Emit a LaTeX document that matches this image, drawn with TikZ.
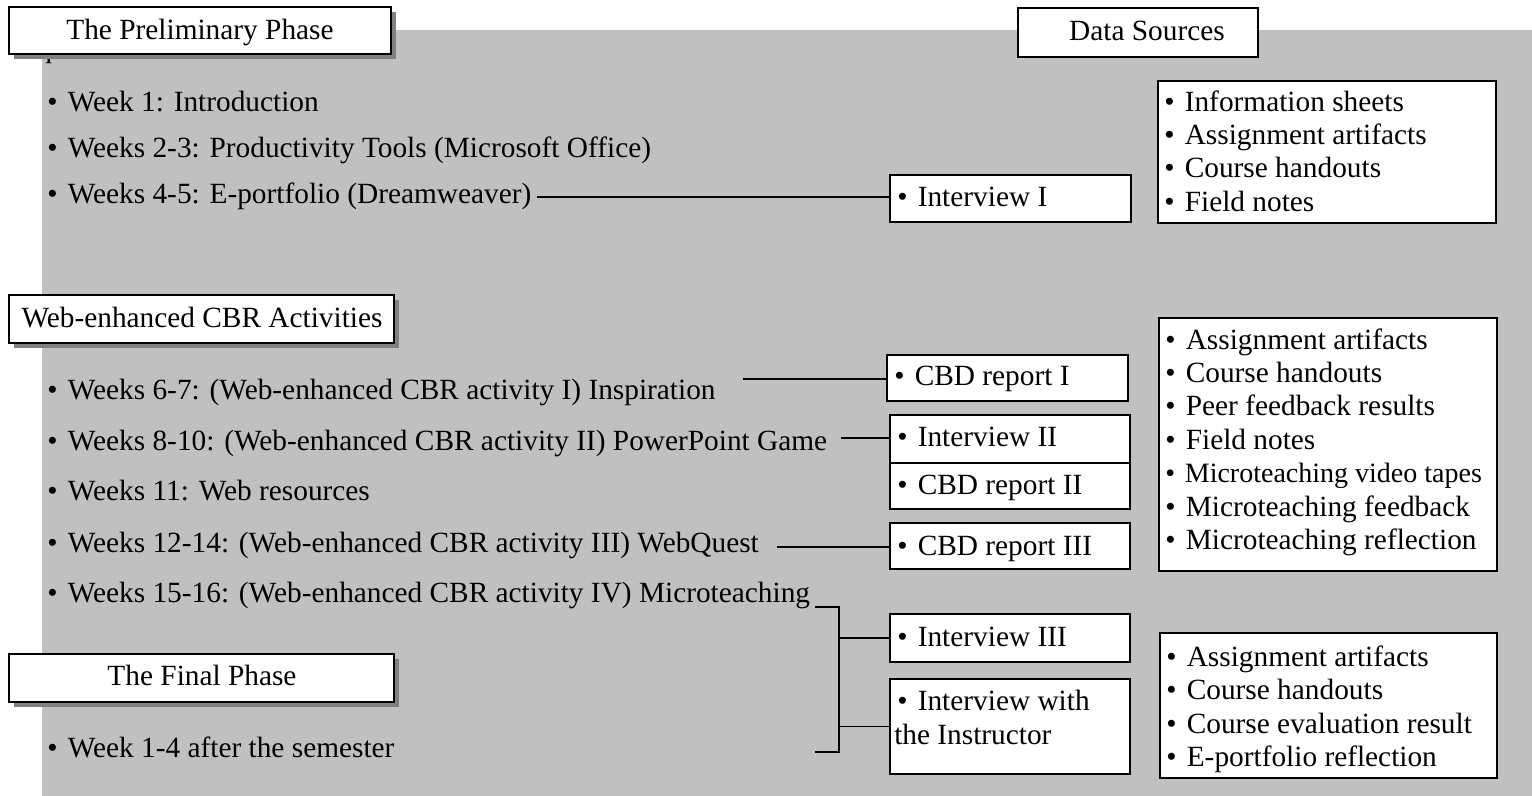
\documentclass[tikz,border=0pt]{standalone}
\usepackage{fontspec}
\setmainfont{Liberation Serif}
\usetikzlibrary{shadows}
\definecolor{bggray}{HTML}{C0C0C0}
\definecolor{shgray}{HTML}{808080}
\newcommand\rbox[6]{\node[#1, anchor=north west, minimum width={(#5-#3)*0.75pt}, minimum height={(#6-#4)*0.75pt}] (#2) at (#3,#4) {};}
\begin{document}
\begin{tikzpicture}[x=0.75pt,y=-0.75pt,
  every node/.style={font=\fontsize{22}{25}\selectfont},
  boxst/.style={draw=black, line width=1.1pt, fill=white, inner sep=0pt, outer sep=0pt},
  hdr/.style={boxst, line width=1.5pt, drop shadow={shadow xshift=3.75pt, shadow yshift=-3.75pt, fill=shgray, opacity=1}},
  plainhdr/.style={boxst, line width=1.3pt},
  txt/.style={inner sep=0pt, anchor=base west},
  ctext/.style={inner sep=0pt, anchor=base},
  conn/.style={draw=black, line width=1.3pt}]
\useasboundingbox (0,0) rectangle (1532,796);
\fill[bggray] (42,30) rectangle (1532,796);
% stray glyph partly hidden by the header
\node[txt] (qq) at (37,57) {q};
% headers
\rbox{hdr}{hprelim}{9}{7}{391}{54}
\node[ctext] (thprelim) at (200,39) {The Preliminary Phase};
\rbox{hdr}{hweb}{9}{295}{394}{343}
\node[ctext] (thweb) at (202,327) {Web-enhanced CBR Activities};
\rbox{hdr}{hfinal}{9}{654}{394}{702}
\node[ctext] (thfinal) at (202,685) {The Final Phase};
\rbox{plainhdr}{hdata}{1018}{8}{1258}{57}
\node[ctext] (thdata) at (1147,40) {Data Sources};
% left list
\node[txt] (w1) at (47,111) {•\hspace{.35em}Week 1: Introduction};
\node[txt] (w2) at (47,157) {•\hspace{.35em}Weeks 2-3: Productivity Tools (Microsoft Office)};
\node[txt] (w4) at (47,203) {•\hspace{.35em}Weeks 4-5: E-portfolio (Dreamweaver)};
\node[txt] (w6) at (47,399) {•\hspace{.35em}Weeks 6-7: (Web-enhanced CBR activity I) Inspiration};
\node[txt] (w8) at (47,450) {•\hspace{.35em}Weeks 8-10: (Web-enhanced CBR activity II) PowerPoint Game};
\node[txt] (w11) at (47,500) {•\hspace{.35em}Weeks 11: Web resources};
\node[txt] (w12) at (47,552) {•\hspace{.35em}Weeks 12-14: (Web-enhanced CBR activity III) WebQuest};
\node[txt] (w15) at (47,602) {•\hspace{.35em}Weeks 15-16: (Web-enhanced CBR activity IV) Microteaching};
\node[txt] (wf) at (47,757) {•\hspace{.35em}Week 1-4 after the semester};
% middle boxes
\rbox{boxst}{int1}{890}{175}{1131}{222}
\node[txt] (tint1) at (897,206) {•\hspace{.35em}Interview I};
\rbox{boxst}{cbd1}{887}{355}{1128}{401}
\node[txt] (tcbd1) at (894,385) {•\hspace{.35em}CBD report I};
\rbox{boxst}{int2}{890}{415}{1130}{463}
\node[txt] (tint2) at (897,446) {•\hspace{.35em}Interview II};
\rbox{boxst}{cbd2}{890}{463}{1130}{509}
\node[txt] (tcbd2) at (897,494) {•\hspace{.35em}CBD report II};
\rbox{boxst}{cbd3}{890}{523}{1130}{569}
\node[txt] (tcbd3) at (897,555) {•\hspace{.35em}CBD report III};
\rbox{boxst}{int3}{890}{614}{1130}{662}
\node[txt] (tint3) at (897,646) {•\hspace{.35em}Interview III};
\rbox{boxst}{intI}{890}{679}{1130}{774}
\node[txt] (tintIa) at (897,710) {•\hspace{.35em}Interview with};
\node[txt] (tintIb) at (894,744) {the Instructor};
% data source boxes
\rbox{boxst}{ds1}{1158}{81}{1496}{223}
\foreach \t [count=\i from 0] in {Information sheets,Assignment artifacts,Course handouts,Field notes}
  \node[txt] (ds1t\i) at (1164,111+\i*33.4) {•\hspace{.35em}\t};
\rbox{boxst}{ds2}{1159}{318}{1497}{571}
\foreach \t [count=\i from 0] in {Assignment artifacts,Course handouts,Peer feedback results,Field notes}
  \node[txt] (ds2t\i) at (1165,349+\i*33.4) {•\hspace{.35em}\t};
\node[txt, font=\fontsize{21}{25}\selectfont] (ds2t4) at (1165,349+4*33.4) {•\hspace{.35em}Microteaching video tapes};
\foreach \t [count=\i from 5] in {Microteaching feedback,Microteaching reflection}
  \node[txt] (ds2t\i) at (1165,349+\i*33.4) {•\hspace{.35em}\t};
\rbox{boxst}{ds3}{1160}{633}{1497}{778}
\foreach \t [count=\i from 0] in {Assignment artifacts,Course handouts,Course evaluation result,E-portfolio reflection}
  \node[txt] (ds3t\i) at (1166,666+\i*33.6) {•\hspace{.35em}\t};
% connectors
\coordinate (c1) at (537,197);
\draw[conn] (c1) -- (c1 -| int1.west);
\coordinate (c2) at (743,379);
\draw[conn] (c2) -- (c2 -| cbd1.west);
\coordinate (c3) at (841,438);
\draw[conn] (c3) -- (c3 -| int2.west);
\coordinate (c4) at (777,547);
\draw[conn] (c4) -- (c4 -| cbd3.west);
\coordinate (bt) at (815,607);
\coordinate (bb) at (815,752);
\coordinate (bv) at (839,607);
\draw[conn] (bt) -- (bv) |- (bb);
\draw[conn] (bv |- int3.west) -- (int3.west);
\draw[conn] (bv |- intI.west) -- (intI.west);
\end{tikzpicture}
\end{document}
